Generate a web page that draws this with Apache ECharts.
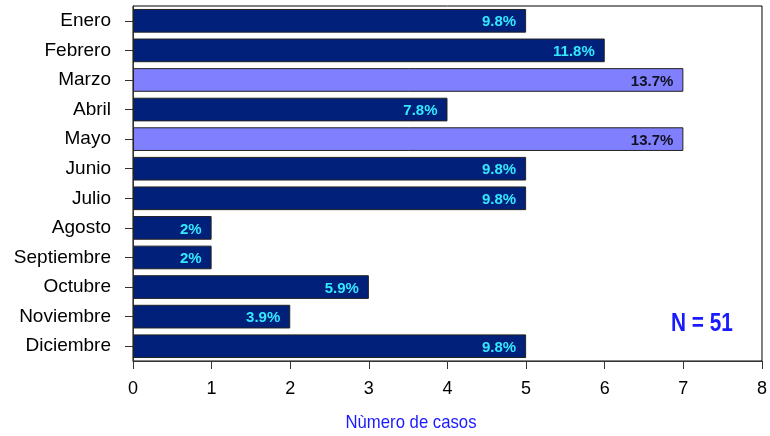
<!DOCTYPE html>
<html><head><meta charset="utf-8">
<script src="https://cdn.jsdelivr.net/npm/echarts@6/dist/echarts.min.js"></script>
<style>html,body{margin:0;padding:0;background:#fff}#c{width:770px;height:436px}</style>
</head><body><div id="c"></div>
<script>
const categories = ['Enero','Febrero','Marzo','Abril','Mayo','Junio','Julio','Agosto','Septiembre','Octubre','Noviembre','Diciembre'];
const casos = [5,6,7,4,7,5,5,1,1,3,2,5];
const porcentajes = ['9.8%','11.8%','13.7%','7.8%','13.7%','9.8%','9.8%','2%','2%','5.9%','3.9%','9.8%'];
const destacados = ['Marzo','Mayo'];
const xTicks = [0,1,2,3,4,5,6,7,8];
const xTitle = 'Nùmero de casos';
const nText = 'N = 51';

const chart = echarts.init(document.getElementById('c'));
const data = casos.map((v,i)=>{
  const hi = destacados.includes(categories[i]);
  return {
    value: v,
    itemStyle: {color: hi ? '#8080FF' : '#00207A'},
    label: {color: hi ? '#111122' : '#33E8FF'}
  };
});
chart.setOption({
  animation: false,
  grid: {left: 133, right: 6, top: 6, bottom: 75, show: true, borderColor: '#000', borderWidth: 1},
  xAxis: {
    type: 'value', min: xTicks[0], max: xTicks[xTicks.length-1], interval: 1,
    axisLine: {show: true, lineStyle: {color: '#333'}},
    axisTick: {show: true, length: 8, lineStyle: {color: '#333'}},
    splitLine: {show: false},
    axisLabel: {color: '#000', fontSize: 18, fontFamily: 'Liberation Sans, Arial', margin: 19}
  },
  yAxis: {
    type: 'category', data: categories, inverse: true,
    axisLine: {show: true, lineStyle: {color: '#333'}},
    axisTick: {show: true, length: 8, alignWithLabel: true, lineStyle: {color: '#333'}},
    axisLabel: {color: '#000', fontSize: 19, fontFamily: 'Liberation Sans, Arial', margin: 22}
  },
  series: [{
    type: 'bar', data: data, barCategoryGap: '20%',
    itemStyle: {borderColor: '#222', borderWidth: 1},
    label: {
      show: true, position: 'insideRight', distance: 10, offset: [0, 1.5],
      fontSize: 15, fontWeight: 'bold', fontFamily: 'Liberation Sans, Arial',
      formatter: p => porcentajes[p.dataIndex]
    }
  }],
  graphic: [{
    type: 'text', x: 702, y: 324, scaleX: 0.8,
    style: {text: nText, fill: '#1a1aff', font: 'bold 26px "Liberation Sans", Arial', align: 'center', verticalAlign: 'middle'}
  }, {
    type: 'text', x: 411, y: 423, scaleX: 0.88,
    style: {text: xTitle, fill: '#1a1aff', font: '19px "Liberation Sans", Arial', align: 'center', verticalAlign: 'middle'}
  }]
});
</script></body></html>
